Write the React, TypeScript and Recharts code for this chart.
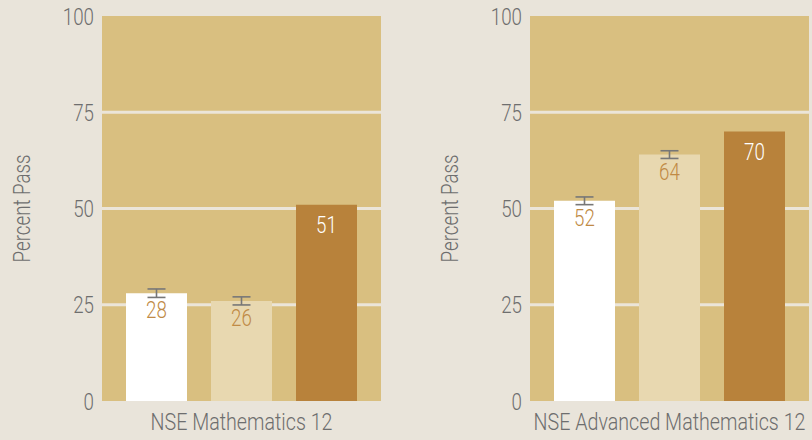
import { BarChart, Bar, XAxis, YAxis, CartesianGrid, ErrorBar, LabelList } from 'recharts';

const groups = ['NSE Mathematics 12', 'NSE Advanced Mathematics 12'];
const seriesA = [28, 52];
const seriesB = [26, 64];
const seriesC = [51, 70];
const errA = [1.1, 1.0];
const errB = [1.05, 1.0];
const yTicks = [0, 25, 50, 75, 100];
const gridValues = [25, 50, 75];

const FONT = 'Roboto, "Liberation Sans", sans-serif';
const TEXT = '#6e6e6e';

// condensed-looking text: the reference uses a light condensed face
function NarrowText({ x, y, text, anchor, dy, fill, size, rotate, sx = 0.78 }: any) {
  const t = `translate(${x},${y})${rotate ? ` rotate(${rotate})` : ''} scale(${sx},1)`;
  return (
    <text transform={t} textAnchor={anchor} dy={dy} fill={fill} fontSize={size} fontFamily={FONT} fontWeight={300}>
      {text}
    </text>
  );
}

function Panel({ idx, width, axisWidth, labelX, rightMargin }: { idx: number; width: number; axisWidth: number; labelX: number; rightMargin: number }) {
  const data = [{ name: groups[idx], a: seriesA[idx], b: seriesB[idx], c: seriesC[idx], aErr: errA[idx], bErr: errB[idx] }];
  const valueLabel = (fill: string, off: number) => (p: any) => (
    <NarrowText x={p.x + p.width / 2} y={p.y + off} text={p.value} anchor="middle" dy="0.71em" fill={fill} size={24} />
  );
  return (
    <BarChart width={width} height={440} data={data} margin={{ top: 16, right: rightMargin, left: 0, bottom: 0 }} barSize={61} barGap={24}>
      <CartesianGrid vertical={false} horizontalValues={gridValues} fill="#d9bf80" stroke="#ebe5d9" strokeWidth={3} />
      <XAxis dataKey="name" height={39} axisLine={false} tickLine={false} tickSize={0} tickMargin={12} interval={0}
        tick={(p: any) => <NarrowText x={p.x} y={p.y} text={p.payload.value} anchor="middle" dy="0.71em" fill={TEXT} size={24} sx={0.82} />} />
      <YAxis type="number" domain={[0, 100]} ticks={yTicks} width={axisWidth} axisLine={false} tickLine={false} tickSize={0} tickMargin={8}
        tick={(p: any) => <NarrowText x={p.x} y={p.y} text={p.payload.value} anchor="end" dy="0.355em" fill={TEXT} size={24} />}
        label={{
          content: (p: any) => (
            <NarrowText x={p.viewBox.x + labelX} y={p.viewBox.y + p.viewBox.height / 2} text="Percent Pass" anchor="middle" dy="0.355em" fill={TEXT} size={24} rotate={-90} />
          ),
        }} />
      <Bar dataKey="a" fill="#ffffff" isAnimationActive={false}>
        <ErrorBar dataKey="aErr" width={9} stroke="#777777" strokeWidth={1.6} />
        <LabelList dataKey="a" content={valueLabel('#c08a45', 8)} />
      </Bar>
      <Bar dataKey="b" fill="#e8d8b0" isAnimationActive={false}>
        <ErrorBar dataKey="bErr" width={9} stroke="#777777" strokeWidth={1.6} />
        <LabelList dataKey="b" content={valueLabel('#c08a45', 8)} />
      </Bar>
      <Bar dataKey="c" fill="#b8823b" isAnimationActive={false}>
        <LabelList dataKey="c" content={valueLabel('#ffffff', 11)} />
      </Bar>
    </BarChart>
  );
}

export default function App() {
  return (
    <div style={{ position: 'absolute', left: 0, top: 0, width: 812, height: 440, background: '#e9e4da', display: 'flex' }}>
      <Panel idx={0} width={400} axisWidth={102} labelX={21} rightMargin={19} />
      <Panel idx={1} width={412} axisWidth={130} labelX={49} rightMargin={3} />
    </div>
  );
}
